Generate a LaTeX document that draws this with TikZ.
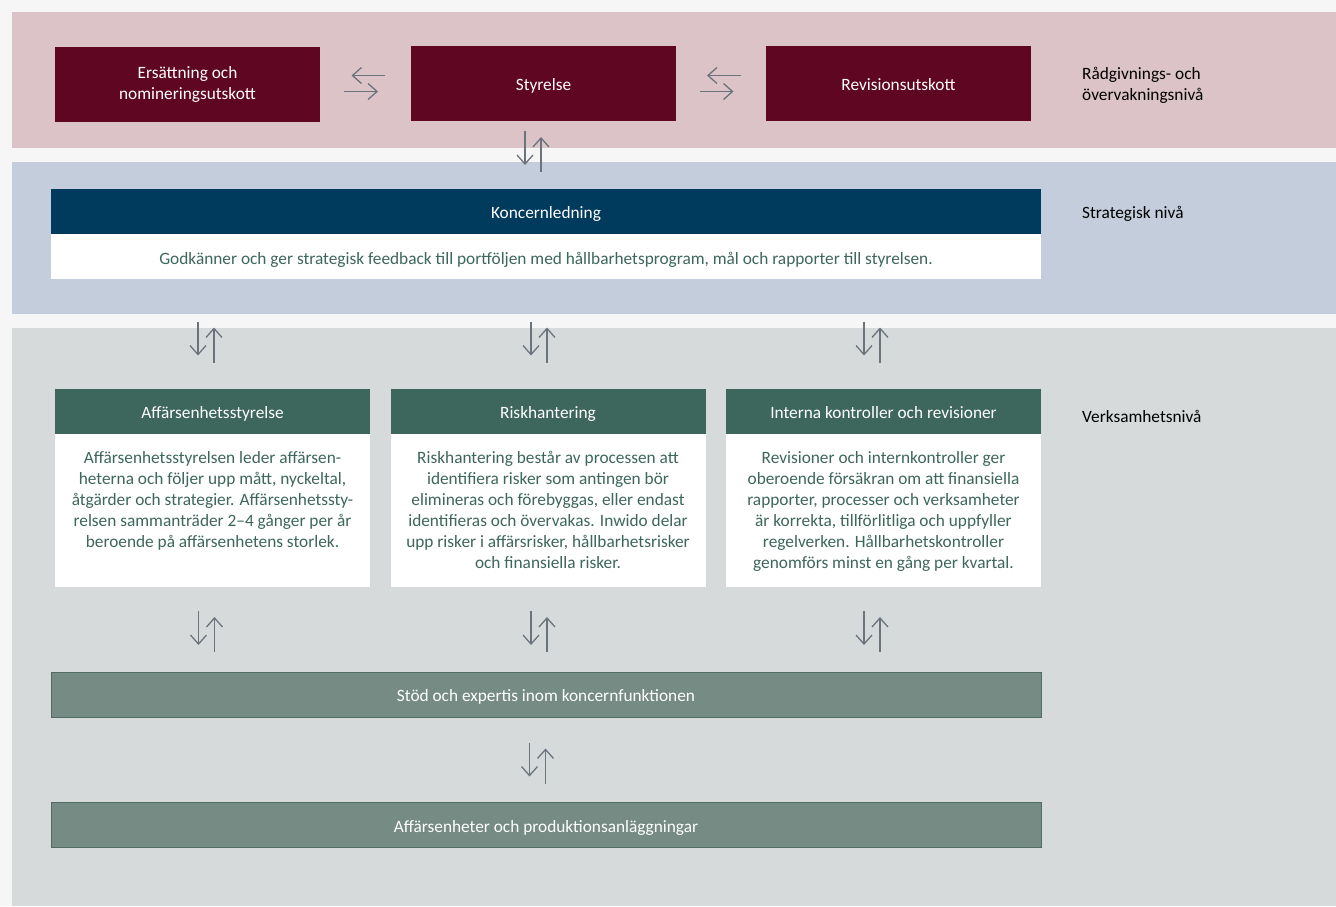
\documentclass[tikz,border=0pt]{standalone}
\usepackage{fontspec}
\setmainfont{Carlito}
\usetikzlibrary{positioning,arrows.meta}
\definecolor{pagebg}{HTML}{F6F6F6}
\definecolor{rosaband}{HTML}{DCC3C7}
\definecolor{blaband}{HTML}{C3CDDB}
\definecolor{graband}{HTML}{D6DADA}
\definecolor{vinrod}{HTML}{5F0622}
\definecolor{marin}{HTML}{003A5D}
\definecolor{skog}{HTML}{3D665C}
\definecolor{salvia}{HTML}{768B84}
\definecolor{salviakant}{HTML}{4F6B63}
\definecolor{pilgra}{HTML}{6B737D}
\begin{document}
\begin{tikzpicture}[
		x=1pt, y=-1pt,
		every node/.style={font=\fontsize{17.3}{21}\selectfont},
		enrad/.style={text height=15pt, text depth=0.5pt},
		utskott/.style={fill=vinrod, text=white, minimum width=265pt, minimum height=75pt, align=center, inner sep=0pt},
		rubrik/.style={fill=#1, text=white, minimum width=315pt, minimum height=45pt, inner sep=0pt, enrad},
		bred/.style={minimum width=990pt},
		kropp/.style={fill=white, minimum width=315pt, minimum height=153pt, inner sep=0pt},
		brodtext/.style={text=skog, align=center, inner sep=0pt},
		stod/.style={fill=salvia, draw=salviakant, line width=0.8pt, text=white, minimum width=990pt, minimum height=45pt, inner sep=0pt, enrad},
		niva/.style={anchor=west, align=left, text=black, inner sep=0pt},
		pil/.style={draw=pilgra, line width=1.3pt, -{Straight Barb[length=9pt,width=16pt]}}
	]
	\fill[pagebg] (0,0) rectangle (1336,906);
	\fill[rosaband] (12,12) rectangle (1336,148);
	\fill[blaband] (12,162) rectangle (1336,314);
	\fill[graband] (12,328) rectangle (1336,906);

	\node[utskott] (ersattning) at (187.5,84) {Ersättning och\\nomineringsutskott};
	\node[utskott, enrad] (styrelse) at (543.5,83.5) {Styrelse};
	\node[utskott, enrad] (revision) at (898.5,83.5) {Revisionsutskott};

	\node[rubrik=marin, bred] (koncern) at (546,211.5) {Koncernledning};
	\node[kropp, bred, minimum height=45pt, below=0pt of koncern, brodtext, enrad] (koncerntext) {Godkänner och ger strategisk feedback till portföljen med hållbarhetsprogram, mål och rapporter till styrelsen.};

	\node[rubrik=skog] (affstyr) at (212.5,411.5) {Affärsenhetsstyrelse};
	\node[rubrik=skog] (risk) at (548,411.5) {Riskhantering};
	\node[rubrik=skog] (intern) at (883.5,411.5) {Interna kontroller och revisioner};
	\node[kropp, below=0pt of affstyr] (affkropp) {};
	\node[kropp, below=0pt of risk] (riskkropp) {};
	\node[kropp, below=0pt of intern] (internkropp) {};
	\node[brodtext, below=17pt of affkropp.north] {Affärsenhetsstyrelsen leder affärsen-\\heterna och följer upp mått, nyckeltal,\\åtgärder och strategier. Affärsenhetssty-\\relsen sammanträder 2--4 gånger per år\\beroende på affärsenhetens storlek.};
	\node[brodtext, below=17pt of riskkropp.north] {Riskhantering består av processen att\\identifiera risker som antingen bör\\elimineras och förebyggas, eller endast\\identifieras och övervakas. Inwido delar\\upp risker i affärsrisker, hållbarhetsrisker\\och finansiella risker.};
	\node[brodtext, below=17pt of internkropp.north] {Revisioner och internkontroller ger\\oberoende försäkran om att finansiella\\rapporter, processer och verksamheter\\är korrekta, tillförlitliga och uppfyller\\regelverken. Hållbarhetskontroller\\genomförs minst en gång per kvartal.};

	\node[stod] (stod) at (546,694.5) {Stöd och expertis inom koncernfunktionen};
	\node[stod] (enheter) at (546,825) {Affärsenheter och produktionsanläggningar};

	\node[niva] (radgivning) at (1082,85) {Rådgivnings- och\\övervakningsnivå};
	\node[niva, enrad] (strategisk) at (1082,211.5) {Strategisk nivå};
	\node[niva, enrad] (verksamhet) at (1082,415.5) {Verksamhetsnivå};

	\coordinate (h1) at (365.5,83.5);
	\coordinate (h2) at (721,83.5);
	\foreach \h in {h1,h2} {
		\draw[pil] ([shift={(19.5,-8)}]\h) -- ([shift={(-14,-8)}]\h);
		\draw[pil] ([shift={(-21.5,8)}]\h) -- ([shift={(12.5,8)}]\h);
	}

	\coordinate (v0) at (533,151.5);
	\coordinate (v1) at (206,342);
	\coordinate (v2) at (539,342);
	\coordinate (v3) at (872,342);
	\coordinate (v4) at (206.5,631.5);
	\coordinate (v5) at (539,631.5);
	\coordinate (v6) at (872,631.5);
	\coordinate (v7) at (537.5,763);
	\foreach \v in {v0,v1,v2,v3,v4,v5,v6,v7} {
		\draw[pil] ([shift={(-8,-20.5)}]\v) -- ([shift={(-8,13.5)}]\v);
		\draw[pil] ([shift={(8,20.5)}]\v) -- ([shift={(8,-14.5)}]\v);
	}
\end{tikzpicture}
\end{document}
